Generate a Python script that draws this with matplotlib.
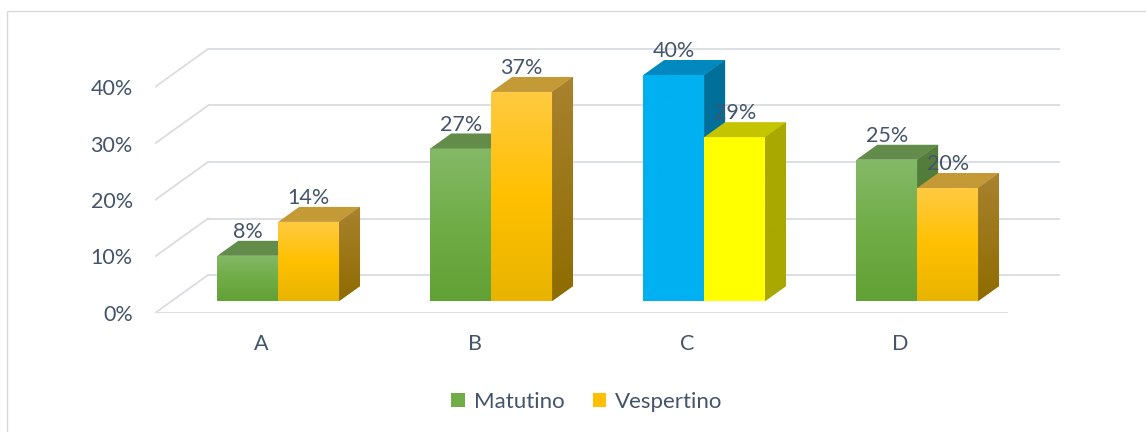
import numpy as np
import matplotlib
matplotlib.use('Agg')
import matplotlib.pyplot as plt
from matplotlib.patches import Polygon, Rectangle, Patch
from matplotlib.colors import LinearSegmentedColormap

# ---- data ----
categories = ['A', 'B', 'C', 'D']
series = ['Matutino', 'Vespertino']
matutino = [8, 27, 40, 25]
vespertino = [14, 37, 29, 20]
yticks = [0, 10, 20, 30, 40]

plt.rcParams['font.family'] = ['Lato', 'DejaVu Sans']
TXT = '#44546A'
GRID = '#d9dde3'
FS = 15.5

W, H = 1146, 432
fig = plt.figure(figsize=(W / 100, H / 100), dpi=100)

# layout (pixels)
ax_l, ax_r, ax_b, ax_t = 155, 1100, 313, 11
ax = fig.add_axes([ax_l / W, (H - ax_b) / H, (ax_r - ax_l) / W, (ax_b - ax_t) / H])
cat_px, y_px = 213.0, 5.65
x_min = -0.5
xlim = (x_min, x_min + (ax_r - ax_l) / cat_px)
ylim = (0, (ax_b - ax_t) / y_px)

kx, ky = 53 / cat_px, 38 / y_px     # full depth offset (oblique projection)
z0, z1 = 0.316, 0.71                # bar depth range
bw = 0.286                          # bar width (category units)
x_right = len(categories) - 0.5

# walls / grid
for t in yticks:
    ax.plot([x_min + kx, x_right + kx], [t + ky, t + ky], color=GRID, lw=1.3, zorder=1,
            solid_capstyle='butt')
    ax.plot([x_min, x_min + kx], [t, t + ky], color=GRID, lw=1.3, zorder=1)
ax.plot([x_min, x_right], [0, 0], color=GRID, lw=1.3, zorder=1)

green = dict(front=['#62a135', '#70ad47', '#84b967'], lid='#638b4a',
             side=['#4a7331', '#557f3c'])
orange = dict(front=['#e8b400', '#ffc000', '#ffca42'], lid='#c49a37',
              side=['#8e6c00', '#a9822f'])
blue = dict(front=['#00b0f0', '#00b0f0'], lid='#0088bf', side=['#00709a', '#00709a'])
yellow = dict(front=['#ffff00', '#ffff00'], lid='#c4c400', side=['#a8a800', '#a8a800'])
styles = [[green, orange], [green, orange], [blue, yellow], [green, orange]]

grad = np.linspace(0, 1, 256).reshape(-1, 1)
z = 2.0
dxd, dyd = kx * (z1 - z0), ky * (z1 - z0)
for i, cat in enumerate(categories):
    for s, vals in enumerate([matutino, vespertino]):
        v = vals[i]
        st = styles[i][s]
        xl = i - bw + s * bw + kx * z0
        xr = xl + bw
        b = ky * z0
        top = b + v
        # front face
        bar = ax.bar(xl, v, bottom=b, width=bw, align='edge', color=st['front'][1],
                     lw=0, zorder=z)[0]
        cm = LinearSegmentedColormap.from_list('f', st['front'])
        im = ax.imshow(grad, extent=[xl, xr, b, top], origin='lower', cmap=cm,
                       aspect='auto', zorder=z + 0.01, interpolation='bilinear')
        im.set_clip_path(bar)
        # top face
        lid = Polygon([(xl, top), (xr, top), (xr + dxd, top + dyd), (xl + dxd, top + dyd)],
                      closed=True, facecolor=st['lid'], lw=0, zorder=z + 0.02)
        ax.add_patch(lid)
        # side face
        side = Polygon([(xr, b), (xr, top), (xr + dxd, top + dyd), (xr + dxd, b + dyd)],
                       closed=True, facecolor=st['side'][1], lw=0, zorder=z + 0.03)
        ax.add_patch(side)
        cms = LinearSegmentedColormap.from_list('s', st['side'])
        ims = ax.imshow(grad, extent=[xr, xr + dxd, b, top + dyd], origin='lower', cmap=cms,
                        aspect='auto', zorder=z + 0.04, interpolation='bilinear')
        ims.set_clip_path(side)
        # label
        ax.annotate(f'{v}%', ((xl + xr) / 2, top + dyd), xytext=(0, 2.0),
                    textcoords='offset points', ha='center', va='baseline',
                    fontsize=FS, color=TXT, zorder=20)
        z += 0.1

ax.set_xlim(*xlim)
ax.set_ylim(*ylim)
ax.set_aspect('auto')
ax.set_yticks(yticks, labels=[f'{t}%' for t in yticks])
ax.set_xticks(range(len(categories)), labels=categories)
ax.tick_params(axis='y', length=0, pad=16, labelsize=FS, labelcolor=TXT)
ax.tick_params(axis='x', length=0, pad=15, labelsize=FS, labelcolor=TXT)
for sp in ax.spines.values():
    sp.set_visible(False)
ax.patch.set_alpha(0)

handles = [Patch(facecolor='#70ad47', lw=0), Patch(facecolor='#ffc000', lw=0)]
fig.legend(handles, series, loc='center', bbox_to_anchor=(587 / W, 1 - 402 / H), ncol=2,
           frameon=False, handlelength=0.6, handleheight=0.6, handletextpad=0.4,
           columnspacing=1.3, fontsize=FS + 0.5, labelcolor=TXT)

fig.add_artist(Rectangle((7 / W, -0.1), 1.2, 1 - 11 / H + 0.1, transform=fig.transFigure,
                         fill=False, edgecolor='#d9d9d9', lw=1))

fig.savefig('out.png', dpi=100)
